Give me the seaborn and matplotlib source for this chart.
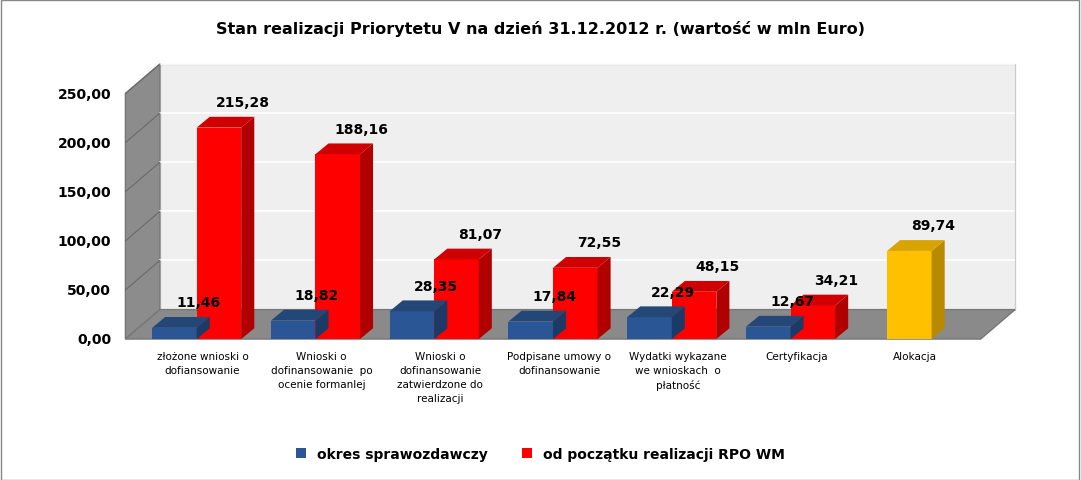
import numpy as np
import pandas as pd
import matplotlib.pyplot as plt
import seaborn as sns
from matplotlib.patches import Polygon

# data
categories = ['złożone wnioski o\ndofiansowanie', 'Wnioski o\ndofinansowanie  po\nocenie formanlej',
              'Wnioski o\ndofinansowanie\nzatwierdzone do\nrealizacji', 'Podpisane umowy o\ndofinansowanie',
              'Wydatki wykazane\nwe wnioskach  o\npłatność', 'Certyfikacja', 'Alokacja']
okres = [11.46, 18.82, 28.35, 17.84, 22.29, 12.67]
od_poczatku = [215.28, 188.16, 81.07, 72.55, 48.15, 34.21]
alokacja = 89.74
series_names = ['okres sprawozdawczy', 'od początku realizacji RPO WM']

df = pd.DataFrame({
    'cat': categories[:6] * 2,
    'value': okres + od_poczatku,
    'series': [series_names[0]] * 6 + [series_names[1]] * 6,
})

fig = plt.figure(figsize=(10.81, 4.81), dpi=100)
ax = fig.add_axes([0.116, 0.293, 0.823, 0.582])
x0, x1 = -0.6, 6.6
wdx, wdy = 0.29, 30
ax.set_xlim(x0, x1 + wdx)
ax.set_ylim(0, 285)
ax.axis('off')

# walls and floor
ax.add_patch(Polygon([(x0 + wdx, wdy), (x1 + wdx, wdy), (x1 + wdx, 250 + wdy), (x0 + wdx, 250 + wdy)],
                     closed=True, fc='#EFEFEF', ec='#CCCCCC', zorder=0, clip_on=False))
ax.add_patch(Polygon([(x0, 0), (x0 + wdx, wdy), (x0 + wdx, 250 + wdy), (x0, 250)],
                     closed=True, fc='#8C8C8C', ec='#777777', zorder=0, clip_on=False))
ax.add_patch(Polygon([(x0, 0), (x1, 0), (x1 + wdx, wdy), (x0 + wdx, wdy)],
                     closed=True, fc='#8A8A8A', ec='#777777', zorder=0, clip_on=False))
for t in range(0, 251, 50):
    if t > 0:
        ax.plot([x0 + wdx, x1 + wdx], [t + wdy, t + wdy], color='#FFFFFF', lw=1.2, zorder=0.5)
        ax.plot([x0, x0 + wdx], [t, t + wdy], color='#6A6A6A', lw=0.8, zorder=0.5)
    ax.text(x0 - 0.12, t, f'{t:.2f}'.replace('.', ','), ha='right', va='center',
            fontsize=10, fontweight='bold')

palette = {series_names[0]: '#2A5696', series_names[1]: '#FF0000'}
sides = {'#2A5696': '#1B3A66', '#FF0000': '#B00000', '#FFC000': '#B88A00'}
tops = {'#2A5696': '#234878', '#FF0000': '#D00000', '#FFC000': '#D9A300'}

sns.barplot(data=df, x='cat', y='value', hue='series', order=categories, palette=palette,
            width=0.75, ax=ax, legend=False, zorder=2, linewidth=0, saturation=1)
ax.bar([6], [alokacja], width=0.375, color='#FFC000', zorder=2, linewidth=0)
ax.set_xlim(x0, x1 + wdx)
ax.set_ylim(0, 285)

bdx, bdy = 0.11, 11
for p in list(ax.patches):
    if not hasattr(p, 'get_width') or p.get_height() <= 0 or p.get_height() != p.get_height():
        continue
    if p.get_width() > 1:
        continue
    bx, bw, h = p.get_x(), p.get_width(), p.get_height()
    c = '#%02X%02X%02X' % tuple(int(round(v * 255)) for v in p.get_facecolor()[:3])
    sc = sides.get(c, '#333333')
    tc = tops.get(c, '#333333')
    ax.add_patch(Polygon([(bx + bw, 0), (bx + bw + bdx, bdy), (bx + bw + bdx, h + bdy), (bx + bw, h)],
                         closed=True, fc=sc, ec='none', zorder=2, clip_on=False))
    ax.add_patch(Polygon([(bx, h), (bx + bw, h), (bx + bw + bdx, h + bdy), (bx + bdx, h + bdy)],
                         closed=True, fc=tc, ec='none', zorder=2, clip_on=False))
    ax.text(bx + bw / 2 + 0.2, h + bdy + 8, f'{h:.2f}'.replace('.', ','), ha='center', va='bottom',
            fontsize=10, fontweight='bold', zorder=3)

for i, c in enumerate(categories):
    ax.text(i + 0.05, -12, c, ha='center', va='top', fontsize=7.5, linespacing=1.5)

fig.text(0.5, 0.94, 'Stan realizacji Priorytetu V na dzień 31.12.2012 r. (wartość w mln Euro)',
         ha='center', va='center', fontsize=11.5, fontweight='bold')
handles = [plt.Rectangle((0, 0), 1, 1, fc=palette[s]) for s in series_names]
fig.legend(handles, series_names, loc='center', bbox_to_anchor=(0.5, 0.055), ncol=2, frameon=False,
           prop={'weight': 'bold', 'size': 10}, handlelength=0.7, handleheight=0.7, columnspacing=2.5)
fig.add_artist(plt.Rectangle((0.001, 0.001), 0.997, 0.997, transform=fig.transFigure,
                             fill=False, ec='#888888', lw=1))
fig.savefig('out.png', dpi=100)
